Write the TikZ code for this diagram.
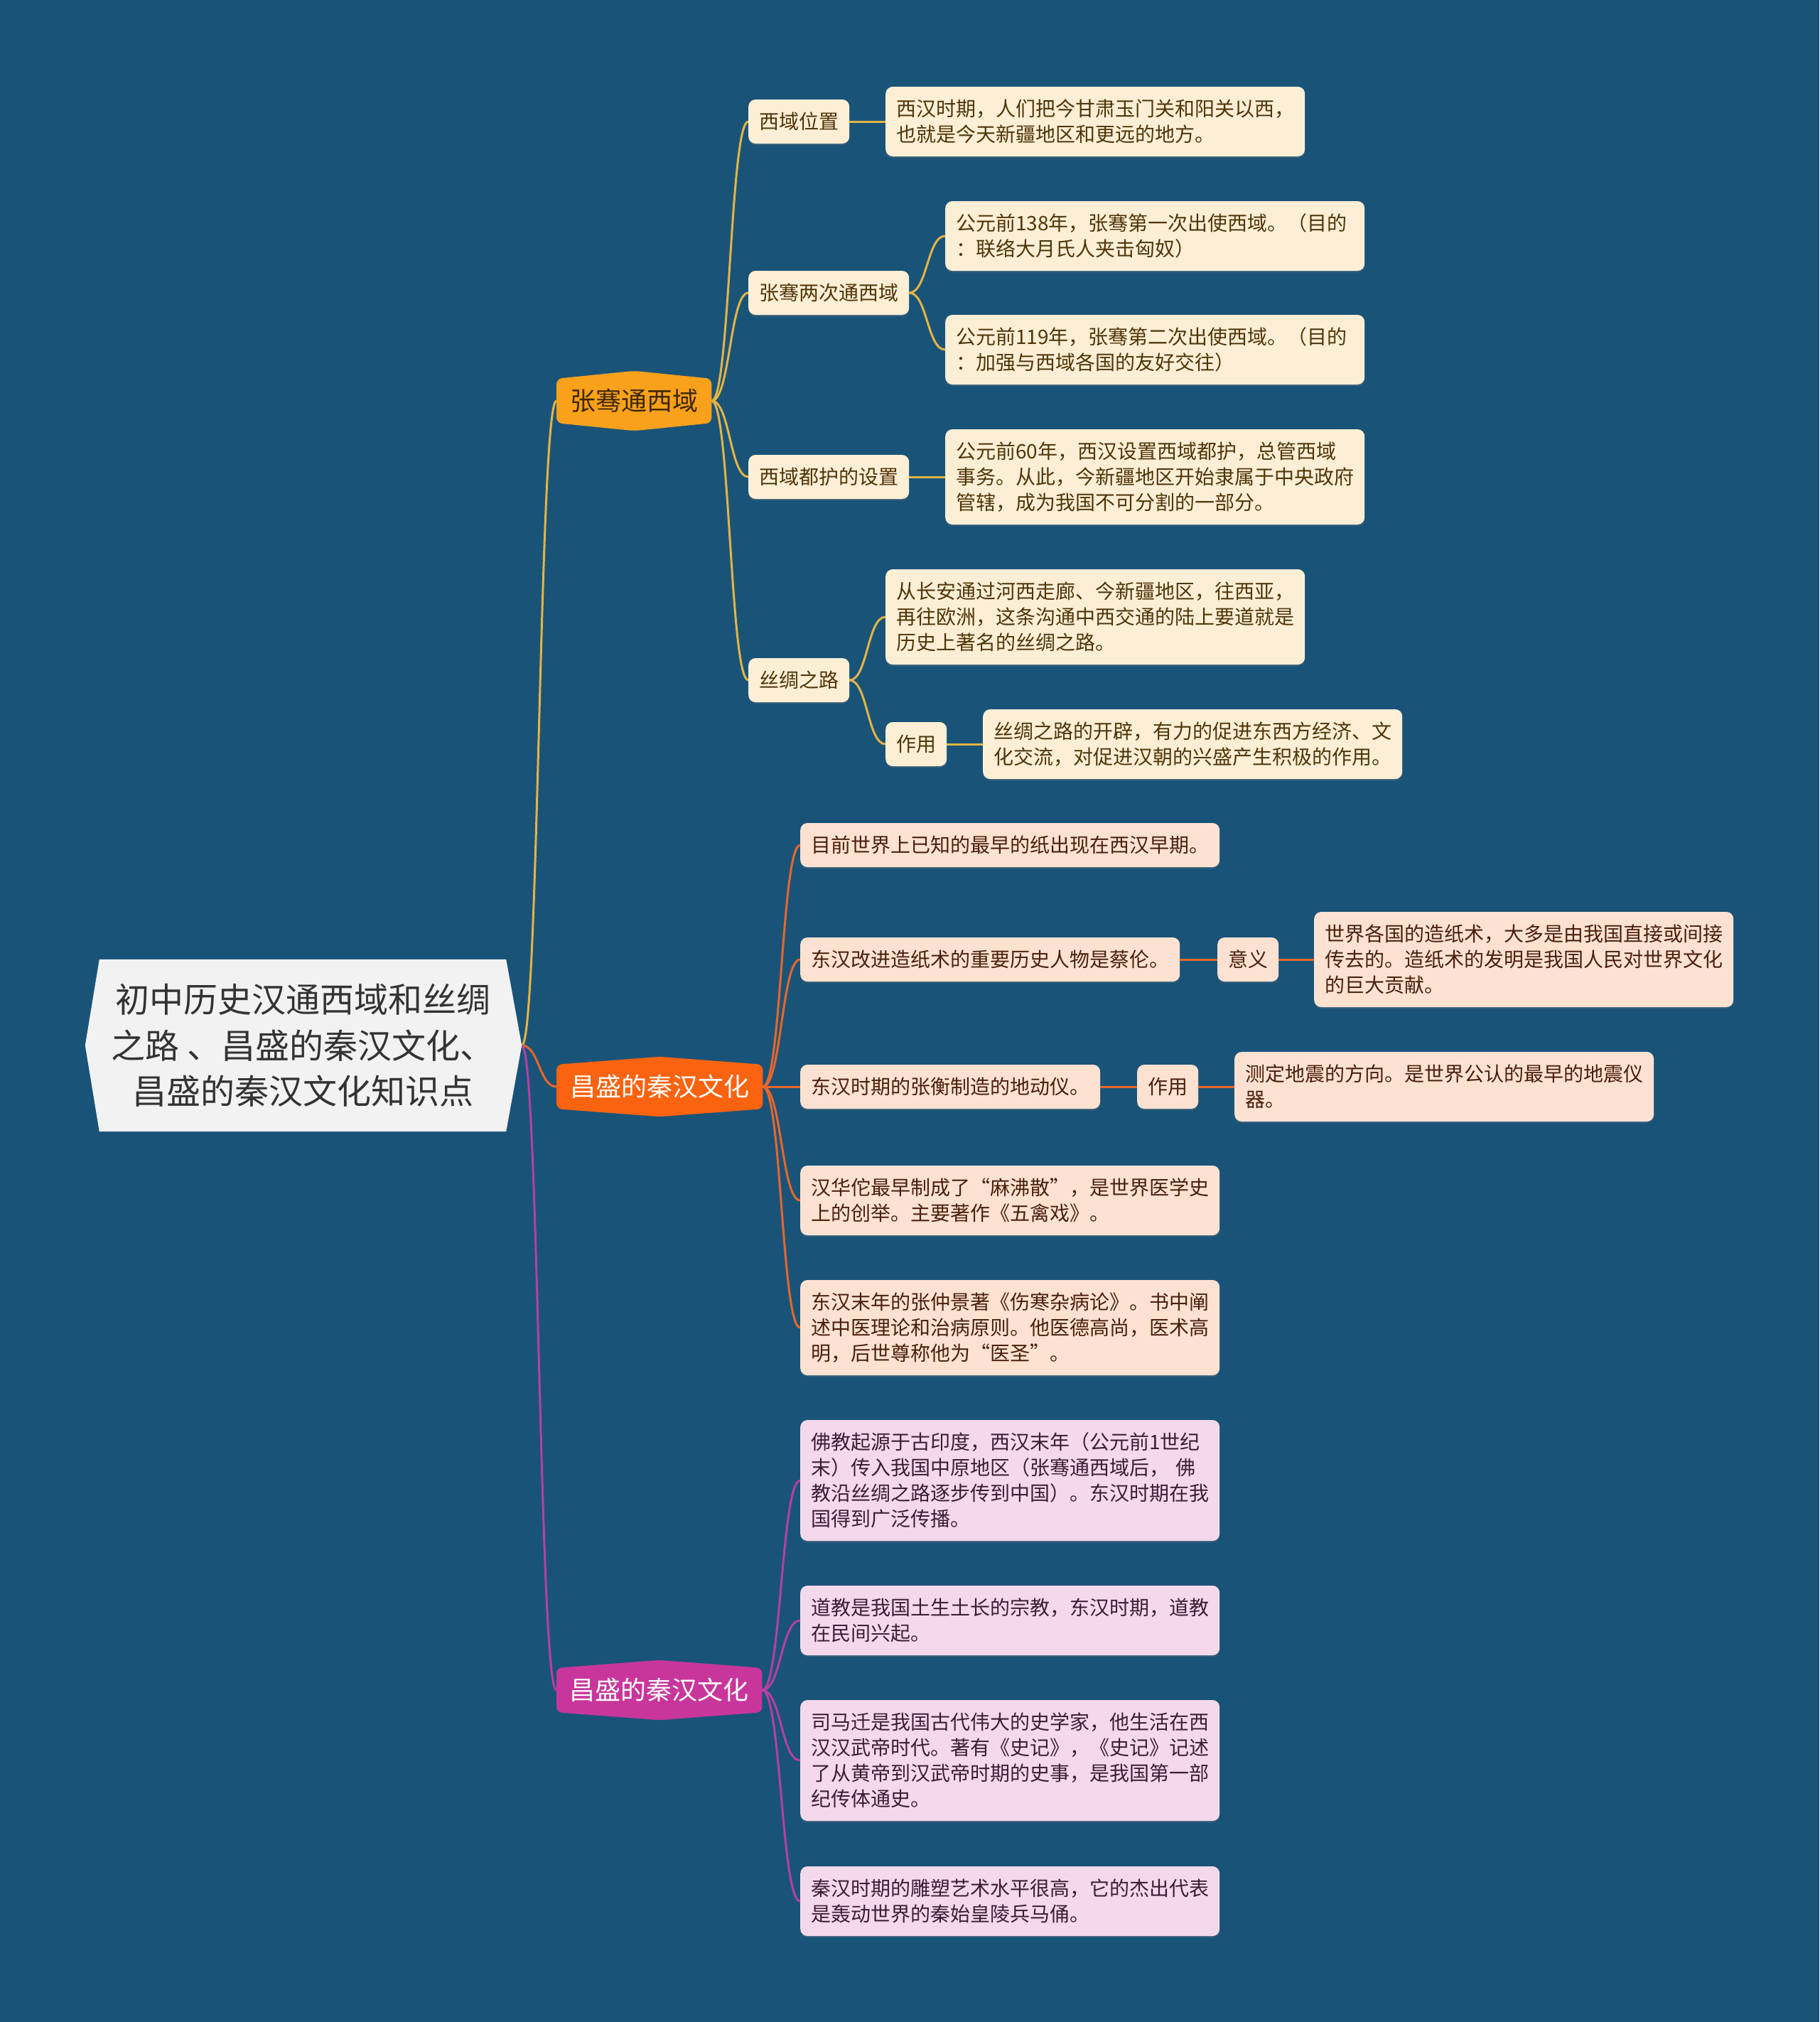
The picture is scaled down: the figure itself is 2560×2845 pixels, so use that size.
\documentclass[tikz,border=0pt]{standalone}
\usepackage{fontspec}
\newfontfamily\cjk{Noto Sans CJK SC}
\usetikzlibrary{calc,shadows}
\definecolor{bgc}{HTML}{1A5378}
\definecolor{rootfill}{HTML}{F2F2F2}
\definecolor{roottext}{HTML}{333333}
\definecolor{bya}{HTML}{F9A11B}
\definecolor{byatext}{HTML}{3E2800}
\definecolor{bor}{HTML}{FA6310}
\definecolor{bpk}{HTML}{C8369C}
\definecolor{yfill}{HTML}{FDEFD6}
\definecolor{ytext}{HTML}{4F3508}
\definecolor{ofill}{HTML}{FDE2D2}
\definecolor{otext}{HTML}{4A1F0D}
\definecolor{pfill}{HTML}{F4D8EC}
\definecolor{ptext}{HTML}{3B1E35}
\definecolor{ylink}{HTML}{E3B445}
\definecolor{olink}{HTML}{E8672B}
\definecolor{plink}{HTML}{B540A3}
\pgfdeclarelayer{edges}
\pgfdeclarelayer{shapes}
\pgfsetlayers{edges,shapes,main}
\newcommand\mmhexagon[2]{%
  \begin{pgfonlayer}{shapes}
  \fill[#2,rounded corners=8pt] (#1.north west) -- ($(#1.north)+(0,-11)$) -- (#1.north east)
     -- (#1.south east) -- ($(#1.south)+(0,11)$) -- (#1.south west) -- cycle;
  \end{pgfonlayer}}
\tikzset{
  mmcurve/.style={to path={.. controls ($(\tikztostart)!0.5!(\tikztotarget|-\tikztostart)$) and ($(\tikztotarget)!0.5!(\tikztostart|-\tikztotarget)$) .. (\tikztotarget)}},
  link/.style={line width=3pt,#1},
  cell/.style={font=\cjk\fontsize{28}{36}\selectfont, rounded corners=10pt, inner xsep=15pt, inner ysep=0pt,
    anchor=west, align=left, drop shadow={shadow xshift=0pt,shadow yshift=-2pt,opacity=0.3}},
  one/.style={minimum height=62pt},
  two/.style={minimum height=98pt, text width=560pt},
  three/.style={minimum height=134pt, text width=560pt},
  four/.style={minimum height=170pt, text width=560pt},
  ycell/.style={cell, fill=yfill, text=ytext},
  ocell/.style={cell, fill=ofill, text=otext},
  pcell/.style={cell, fill=pfill, text=ptext},
  branch/.style={font=\cjk\fontsize{36}{44}\selectfont, inner sep=0pt, minimum height=62pt, anchor=west},
  rootnode/.style={font=\cjk\fontsize{48}{64.5}\selectfont, align=center, text=roottext,
    minimum width=572pt, minimum height=242pt, inner sep=0pt}
}
\begin{document}
\begin{tikzpicture}[x=1pt,y=-1pt]
\useasboundingbox (0,0) rectangle (2560,2845);
\begin{pgfonlayer}{edges}
\fill[bgc] (0,0) rectangle (2560,2845);
\end{pgfonlayer}

% root
\node[rootnode] (root) at (426,1471) {初中历史汉通西域和丝绸\\之路 、昌盛的秦汉文化、\\昌盛的秦汉文化知识点};
\begin{pgfonlayer}{shapes}
\fill[rootfill] (root.north west) -- (root.north east) -- ($(root.east)+(22,0)$) -- (root.south east)
  -- (root.south west) -- ($(root.west)+(-20,0)$) -- cycle;
\end{pgfonlayer}
\coordinate (rootR) at ($(root.east)+(22,0)$);

% branches
\node[branch, minimum width=218pt, text=byatext] (b1) at (783,564) {张骞通西域};
\mmhexagon{b1}{bya}
\node[branch, minimum width=290pt, text=white] (b2) at (783,1529) {昌盛的秦汉文化};
\mmhexagon{b2}{bor}
\node[branch, minimum width=289pt, text=white] (b3) at (783,2378) {昌盛的秦汉文化};
\mmhexagon{b3}{bpk}

% yellow branch
\node[ycell, one] (w1) at (1053,171) {西域位置};
\node[ycell, two] (w1a) at (1246,171) {西汉时期，人们把今甘肃玉门关和阳关以西，\\也就是今天新疆地区和更远的地方。};
\node[ycell, one] (w2) at (1053,412) {张骞两次通西域};
\node[ycell, two] (w2a) at (1330,332) {公元前138年，张骞第一次出使西域。（目的\\：联络大月氏人夹击匈奴）};
\node[ycell, two] (w2b) at (1330,492) {公元前119年，张骞第二次出使西域。（目的\\：加强与西域各国的友好交往）};
\node[ycell, one] (w3) at (1053,671) {西域都护的设置};
\node[ycell, three] (w3a) at (1330,671) {公元前60年，西汉设置西域都护，总管西域\\事务。从此，今新疆地区开始隶属于中央政府\\管辖，成为我国不可分割的一部分。};
\node[ycell, one] (w4) at (1053,957) {丝绸之路};
\node[ycell, three] (w4a) at (1246,868) {从长安通过河西走廊、今新疆地区，往西亚，\\再往欧洲，这条沟通中西交通的陆上要道就是\\历史上著名的丝绸之路。};
\node[ycell, one] (w4b) at (1246,1047) {作用};
\node[ycell, two] (w4c) at (1383,1047) {丝绸之路的开辟，有力的促进东西方经济、文\\化交流，对促进汉朝的兴盛产生积极的作用。};

% orange branch
\node[ocell, one] (c1) at (1126,1189) {目前世界上已知的最早的纸出现在西汉早期。};
\node[ocell, one] (c2) at (1126,1350) {东汉改进造纸术的重要历史人物是蔡伦。};
\node[ocell, one] (c2a) at (1713,1350) {意义};
\node[ocell, three] (c2b) at (1849,1350) {世界各国的造纸术，大多是由我国直接或间接\\传去的。造纸术的发明是我国人民对世界文化\\的巨大贡献。};
\node[ocell, one] (c3) at (1126,1529) {东汉时期的张衡制造的地动仪。};
\node[ocell, one] (c3a) at (1600,1529) {作用};
\node[ocell, two] (c3b) at (1737,1529) {测定地震的方向。是世界公认的最早的地震仪\\器。};
\node[ocell, two] (c4) at (1126,1689) {汉华佗最早制成了“麻沸散”，是世界医学史\\上的创举。主要著作《五禽戏》。};
\node[ocell, three] (c5) at (1126,1868) {东汉末年的张仲景著《伤寒杂病论》。书中阐\\述中医理论和治病原则。他医德高尚，医术高\\明，后世尊称他为“医圣”。};

% pink branch
\node[pcell, four] (p1) at (1126,2083) {佛教起源于古印度，西汉末年（公元前1世纪\\末）传入我国中原地区（张骞通西域后， 佛\\教沿丝绸之路逐步传到中国）。东汉时期在我\\国得到广泛传播。};
\node[pcell, two] (p2) at (1126,2280) {道教是我国土生土长的宗教，东汉时期，道教\\在民间兴起。};
\node[pcell, four] (p3) at (1126,2477) {司马迁是我国古代伟大的史学家，他生活在西\\汉汉武帝时代。著有《史记》，《史记》记述\\了从黄帝到汉武帝时期的史事，是我国第一部\\纪传体通史。};
\node[pcell, two] (p4) at (1126,2675) {秦汉时期的雕塑艺术水平很高，它的杰出代表\\是轰动世界的秦始皇陵兵马俑。};

% connectors
\begin{pgfonlayer}{edges}
\draw[link=ylink] (rootR) to[mmcurve] (b1.west);
\draw[link=olink] (rootR) to[mmcurve] (b2.west);
\draw[link=plink] (rootR) to[mmcurve] (b3.west);
\foreach \t in {w1,w2,w3,w4} {\draw[link=ylink] (b1.east) to[mmcurve] (\t.west);}
\draw[link=ylink] (w1.east) to[mmcurve] (w1a.west);
\draw[link=ylink] (w2.east) to[mmcurve] (w2a.west);
\draw[link=ylink] (w2.east) to[mmcurve] (w2b.west);
\draw[link=ylink] (w3.east) to[mmcurve] (w3a.west);
\draw[link=ylink] (w4.east) to[mmcurve] (w4a.west);
\draw[link=ylink] (w4.east) to[mmcurve] (w4b.west);
\draw[link=ylink] (w4b.east) to[mmcurve] (w4c.west);
\foreach \t in {c1,c2,c3,c4,c5} {\draw[link=olink] (b2.east) to[mmcurve] (\t.west);}
\draw[link=olink] (c2.east) to[mmcurve] (c2a.west);
\draw[link=olink] (c2a.east) to[mmcurve] (c2b.west);
\draw[link=olink] (c3.east) to[mmcurve] (c3a.west);
\draw[link=olink] (c3a.east) to[mmcurve] (c3b.west);
\foreach \t in {p1,p2,p3,p4} {\draw[link=plink] (b3.east) to[mmcurve] (\t.west);}
\end{pgfonlayer}
\end{tikzpicture}
\end{document}
